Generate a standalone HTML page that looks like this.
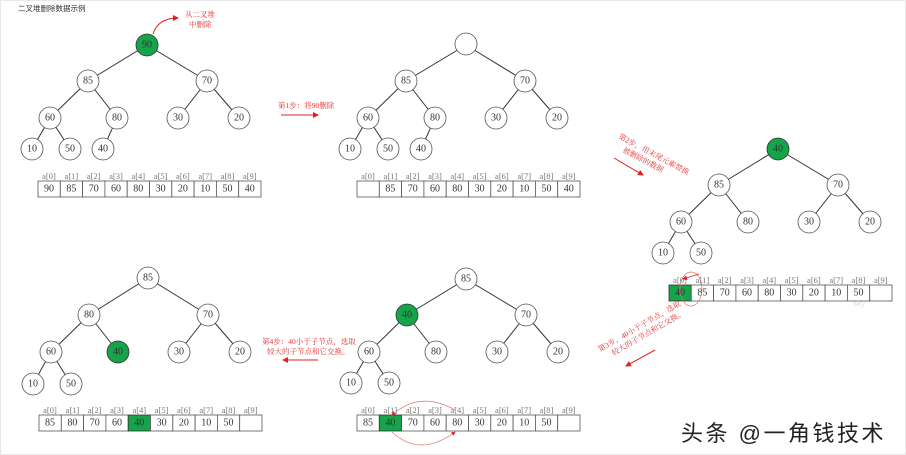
<!DOCTYPE html>
<html><head><meta charset="utf-8"><style>
html,body{margin:0;padding:0;background:#fff}
svg{display:block}
.n{fill:#fff;stroke:#555;stroke-width:0.8}
.g{fill:#15a44a;stroke:#333;stroke-width:0.8}
.t{font-family:"Liberation Serif",serif;font-size:10px;fill:#333;text-anchor:middle;dominant-baseline:central}
.l{stroke:#333;stroke-width:1}
.c{fill:#fff;stroke:#555;stroke-width:0.8}
.cl{font-family:"Liberation Serif",serif;font-size:8.5px;fill:#777;text-anchor:middle}
.r{font-family:"Liberation Serif","Noto Serif CJK SC",serif;font-size:7.5px;fill:#e03030}
</style></head><body>
<svg width="906" height="455" viewBox="0 0 906 455" xmlns="http://www.w3.org/2000/svg">
<defs><marker id="a" markerWidth="6" markerHeight="6" refX="5" refY="3" orient="auto"><path d="M0,0L6,3L0,6z" fill="#e02020"/></marker></defs>
<rect x="0.5" y="0.5" width="905" height="454" fill="#fff" stroke="#e8e8e8"/>
<text x="18" y="11" style="font-family:'Liberation Sans','Noto Sans CJK SC',sans-serif;font-size:7.5px;fill:#333">二叉堆删除数据示例</text>

<!-- Tree 1 -->
<g>
<path class="l" d="M147,45L88,81M147,45L207,81M88,81L50,118M88,81L117,118M207,81L178,118M207,81L239,118M50,118L32,149M50,118L70,149M117,118L103,149"/>
<circle class="g" cx="147" cy="45" r="11"/><text class="t" x="147" y="45">90</text>
<circle class="n" cx="88" cy="81" r="11"/><text class="t" x="88" y="81">85</text>
<circle class="n" cx="207" cy="81" r="11"/><text class="t" x="207" y="81">70</text>
<circle class="n" cx="50" cy="118" r="11"/><text class="t" x="50" y="118">60</text>
<circle class="n" cx="117" cy="118" r="11"/><text class="t" x="117" y="118">80</text>
<circle class="n" cx="178" cy="118" r="11"/><text class="t" x="178" y="118">30</text>
<circle class="n" cx="239" cy="118" r="11"/><text class="t" x="239" y="118">20</text>
<circle class="n" cx="32" cy="149" r="11"/><text class="t" x="32" y="149">10</text>
<circle class="n" cx="70" cy="149" r="11"/><text class="t" x="70" y="149">50</text>
<circle class="n" cx="103" cy="149" r="11"/><text class="t" x="103" y="149">40</text>
</g>
<path d="M153,34Q158,18 178,18" fill="none" stroke="#e02020" stroke-width="1" marker-end="url(#a)"/>
<text class="r" x="185" y="17">从二叉堆</text><text class="r" x="189" y="27">中删除</text>
<g>
<rect class="c" x="38" y="181" width="22.3" height="16"/><rect class="c" x="60.3" y="181" width="22.3" height="16"/><rect class="c" x="82.6" y="181" width="22.3" height="16"/><rect class="c" x="104.9" y="181" width="22.3" height="16"/><rect class="c" x="127.2" y="181" width="22.3" height="16"/><rect class="c" x="149.5" y="181" width="22.3" height="16"/><rect class="c" x="171.8" y="181" width="22.3" height="16"/><rect class="c" x="194.1" y="181" width="22.3" height="16"/><rect class="c" x="216.4" y="181" width="22.3" height="16"/><rect class="c" x="238.7" y="181" width="22.3" height="16"/>
<text class="t" x="49" y="189">90</text><text class="t" x="71.4" y="189">85</text><text class="t" x="93.7" y="189">70</text><text class="t" x="116" y="189">60</text><text class="t" x="138.3" y="189">80</text><text class="t" x="160.6" y="189">30</text><text class="t" x="182.9" y="189">20</text><text class="t" x="205.2" y="189">10</text><text class="t" x="227.5" y="189">50</text><text class="t" x="249.8" y="189">40</text>
<text class="cl" x="49" y="179">a[0]</text><text class="cl" x="71.4" y="179">a[1]</text><text class="cl" x="93.7" y="179">a[2]</text><text class="cl" x="116" y="179">a[3]</text><text class="cl" x="138.3" y="179">a[4]</text><text class="cl" x="160.6" y="179">a[5]</text><text class="cl" x="182.9" y="179">a[6]</text><text class="cl" x="205.2" y="179">a[7]</text><text class="cl" x="227.5" y="179">a[8]</text><text class="cl" x="249.8" y="179">a[9]</text>
</g>
<text class="r" x="278" y="108">第1步：将90删除</text>
<line x1="281" y1="115" x2="318" y2="115" stroke="#e02020" stroke-width="1" marker-end="url(#a)"/>

<!-- Tree 2 -->
<g transform="translate(318,0)">
<path class="l" d="M148,45L88,81M148,45L207,81M88,81L50,118M88,81L117,118M207,81L178,118M207,81L239,118M50,118L32,149M50,118L70,149M117,118L103,149"/>
<circle class="n" cx="148" cy="44" r="11"/>
<circle class="n" cx="88" cy="81" r="11"/><text class="t" x="88" y="81">85</text>
<circle class="n" cx="207" cy="81" r="11"/><text class="t" x="207" y="81">70</text>
<circle class="n" cx="50" cy="118" r="11"/><text class="t" x="50" y="118">60</text>
<circle class="n" cx="117" cy="118" r="11"/><text class="t" x="117" y="118">80</text>
<circle class="n" cx="178" cy="118" r="11"/><text class="t" x="178" y="118">30</text>
<circle class="n" cx="239" cy="118" r="11"/><text class="t" x="239" y="118">20</text>
<circle class="n" cx="32" cy="149" r="11"/><text class="t" x="32" y="149">10</text>
<circle class="n" cx="70" cy="149" r="11"/><text class="t" x="70" y="149">50</text>
<circle class="n" cx="103" cy="149" r="11"/><text class="t" x="103" y="149">40</text>
</g>
<g transform="translate(319,0)">
<rect class="c" x="38" y="181" width="22.3" height="16"/><rect class="c" x="60.3" y="181" width="22.3" height="16"/><rect class="c" x="82.6" y="181" width="22.3" height="16"/><rect class="c" x="104.9" y="181" width="22.3" height="16"/><rect class="c" x="127.2" y="181" width="22.3" height="16"/><rect class="c" x="149.5" y="181" width="22.3" height="16"/><rect class="c" x="171.8" y="181" width="22.3" height="16"/><rect class="c" x="194.1" y="181" width="22.3" height="16"/><rect class="c" x="216.4" y="181" width="22.3" height="16"/><rect class="c" x="238.7" y="181" width="22.3" height="16"/>
<text class="t" x="71.4" y="189">85</text><text class="t" x="93.7" y="189">70</text><text class="t" x="116" y="189">60</text><text class="t" x="138.3" y="189">80</text><text class="t" x="160.6" y="189">30</text><text class="t" x="182.9" y="189">20</text><text class="t" x="205.2" y="189">10</text><text class="t" x="227.5" y="189">50</text><text class="t" x="249.8" y="189">40</text>
<text class="cl" x="49" y="179">a[0]</text><text class="cl" x="71.4" y="179">a[1]</text><text class="cl" x="93.7" y="179">a[2]</text><text class="cl" x="116" y="179">a[3]</text><text class="cl" x="138.3" y="179">a[4]</text><text class="cl" x="160.6" y="179">a[5]</text><text class="cl" x="182.9" y="179">a[6]</text><text class="cl" x="205.2" y="179">a[7]</text><text class="cl" x="227.5" y="179">a[8]</text><text class="cl" x="249.8" y="179">a[9]</text>
</g>

<!-- Step 2 text -->
<g transform="translate(618,138) rotate(28)">
<text class="r" x="0" y="0">第2步，用末尾元素替换</text>
<text class="r" x="10" y="10">被删除的数据</text>
</g>
<line x1="614" y1="158" x2="643" y2="175" stroke="#e02020" stroke-width="1" marker-end="url(#a)"/>

<!-- Tree 3 -->
<g transform="translate(631,104)">
<path class="l" d="M147,45L88,81M147,45L207,81M88,81L50,118M88,81L117,118M207,81L178,118M207,81L239,118M50,118L32,149M50,118L70,149"/>
<circle class="g" cx="147" cy="45" r="11"/><text class="t" x="147" y="45">40</text>
<circle class="n" cx="88" cy="81" r="11"/><text class="t" x="88" y="81">85</text>
<circle class="n" cx="207" cy="81" r="11"/><text class="t" x="207" y="81">70</text>
<circle class="n" cx="50" cy="118" r="11"/><text class="t" x="50" y="118">60</text>
<circle class="n" cx="117" cy="118" r="11"/><text class="t" x="117" y="118">80</text>
<circle class="n" cx="178" cy="118" r="11"/><text class="t" x="178" y="118">30</text>
<circle class="n" cx="239" cy="118" r="11"/><text class="t" x="239" y="118">20</text>
<circle class="n" cx="32" cy="149" r="11"/><text class="t" x="32" y="149">10</text>
<circle class="n" cx="70" cy="149" r="11"/><text class="t" x="70" y="149">50</text>
</g>
<g transform="translate(631,104)">
<rect class="g" x="38" y="181" width="22.3" height="16"/><rect class="c" x="60.3" y="181" width="22.3" height="16"/><rect class="c" x="82.6" y="181" width="22.3" height="16"/><rect class="c" x="104.9" y="181" width="22.3" height="16"/><rect class="c" x="127.2" y="181" width="22.3" height="16"/><rect class="c" x="149.5" y="181" width="22.3" height="16"/><rect class="c" x="171.8" y="181" width="22.3" height="16"/><rect class="c" x="194.1" y="181" width="22.3" height="16"/><rect class="c" x="216.4" y="181" width="22.3" height="16"/><rect class="c" x="238.7" y="181" width="22.3" height="16"/>
<text class="t" x="49" y="189">40</text><text class="t" x="71.4" y="189">85</text><text class="t" x="93.7" y="189">70</text><text class="t" x="116" y="189">60</text><text class="t" x="138.3" y="189">80</text><text class="t" x="160.6" y="189">30</text><text class="t" x="182.9" y="189">20</text><text class="t" x="205.2" y="189">10</text><text class="t" x="227.5" y="189">50</text>
<text class="cl" x="49" y="179">a[0]</text><text class="cl" x="71.4" y="179">a[1]</text><text class="cl" x="93.7" y="179">a[2]</text><text class="cl" x="116" y="179">a[3]</text><text class="cl" x="138.3" y="179">a[4]</text><text class="cl" x="160.6" y="179">a[5]</text><text class="cl" x="182.9" y="179">a[6]</text><text class="cl" x="205.2" y="179">a[7]</text><text class="cl" x="227.5" y="179">a[8]</text><text class="cl" x="249.8" y="179">a[9]</text>
</g>
<ellipse cx="691" cy="289" rx="11" ry="17" fill="none" stroke="#e07070" stroke-width="0.7"/>
<path d="M699,274L683,279" stroke="#e02020" stroke-width="0.8" marker-end="url(#a)"/>
<text x="853" y="306" style="font-family:'Liberation Sans',sans-serif;font-size:8px;fill:#ddd">sky</text>

<!-- Step 3 text -->
<g transform="translate(600,352) rotate(-30)">
<text class="r" x="0" y="0">第3步，40小于子节点，选取</text>
<text class="r" x="10" y="10">较大的子节点和它交换。</text>
</g>
<line x1="655" y1="350" x2="626" y2="366" stroke="#e02020" stroke-width="1" marker-end="url(#a)"/>

<!-- Tree 4 -->
<g transform="translate(1,233)">
<path class="l" d="M147,45L88,82M147,45L207,82M88,82L50,119M88,82L117,119M207,82L178,119M207,82L239,119M50,119L32,151M50,119L70,151"/>
<circle class="n" cx="147" cy="45" r="11"/><text class="t" x="147" y="45">85</text>
<circle class="n" cx="88" cy="82" r="11"/><text class="t" x="88" y="82">80</text>
<circle class="n" cx="207" cy="82" r="11"/><text class="t" x="207" y="82">70</text>
<circle class="n" cx="50" cy="119" r="11"/><text class="t" x="50" y="119">60</text>
<circle class="g" cx="117" cy="119" r="11"/><text class="t" x="117" y="119">40</text>
<circle class="n" cx="178" cy="119" r="11"/><text class="t" x="178" y="119">30</text>
<circle class="n" cx="239" cy="119" r="11"/><text class="t" x="239" y="119">20</text>
<circle class="n" cx="32" cy="151" r="11"/><text class="t" x="32" y="151">10</text>
<circle class="n" cx="70" cy="151" r="11"/><text class="t" x="70" y="151">50</text>
</g>
<g transform="translate(1,234)">
<rect class="c" x="38" y="181" width="22.3" height="16"/><rect class="c" x="60.3" y="181" width="22.3" height="16"/><rect class="c" x="82.6" y="181" width="22.3" height="16"/><rect class="c" x="104.9" y="181" width="22.3" height="16"/><rect class="g" x="127.2" y="181" width="22.3" height="16"/><rect class="c" x="149.5" y="181" width="22.3" height="16"/><rect class="c" x="171.8" y="181" width="22.3" height="16"/><rect class="c" x="194.1" y="181" width="22.3" height="16"/><rect class="c" x="216.4" y="181" width="22.3" height="16"/><rect class="c" x="238.7" y="181" width="22.3" height="16"/>
<text class="t" x="49" y="189">85</text><text class="t" x="71.4" y="189">80</text><text class="t" x="93.7" y="189">70</text><text class="t" x="116" y="189">60</text><text class="t" x="138.3" y="189">40</text><text class="t" x="160.6" y="189">30</text><text class="t" x="182.9" y="189">20</text><text class="t" x="205.2" y="189">10</text><text class="t" x="227.5" y="189">50</text>
<text class="cl" x="49" y="179">a[0]</text><text class="cl" x="71.4" y="179">a[1]</text><text class="cl" x="93.7" y="179">a[2]</text><text class="cl" x="116" y="179">a[3]</text><text class="cl" x="138.3" y="179">a[4]</text><text class="cl" x="160.6" y="179">a[5]</text><text class="cl" x="182.9" y="179">a[6]</text><text class="cl" x="205.2" y="179">a[7]</text><text class="cl" x="227.5" y="179">a[8]</text><text class="cl" x="249.8" y="179">a[9]</text>
</g>

<!-- Step 4 text -->
<text class="r" x="262" y="344">第4步：40小于子节点，选取</text>
<text class="r" x="267" y="354">较大的子节点和它交换。</text>
<line x1="318" y1="360" x2="283" y2="360" stroke="#e02020" stroke-width="1" marker-end="url(#a)"/>

<!-- Tree 5 -->
<g transform="translate(319,234)">
<path class="l" d="M147,45L88,81M147,45L207,81M88,81L50,118M88,81L117,118M207,81L178,118M207,81L239,118M50,118L32,149M50,118L70,149"/>
<circle class="n" cx="147" cy="45" r="11"/><text class="t" x="147" y="45">85</text>
<circle class="g" cx="88" cy="81" r="11"/><text class="t" x="88" y="81">40</text>
<circle class="n" cx="207" cy="81" r="11"/><text class="t" x="207" y="81">70</text>
<circle class="n" cx="50" cy="118" r="11"/><text class="t" x="50" y="118">60</text>
<circle class="n" cx="117" cy="118" r="11"/><text class="t" x="117" y="118">80</text>
<circle class="n" cx="178" cy="118" r="11"/><text class="t" x="178" y="118">30</text>
<circle class="n" cx="239" cy="118" r="11"/><text class="t" x="239" y="118">20</text>
<circle class="n" cx="32" cy="149" r="11"/><text class="t" x="32" y="149">10</text>
<circle class="n" cx="70" cy="149" r="11"/><text class="t" x="70" y="149">50</text>
</g>
<g transform="translate(319,234)">
<rect class="c" x="38" y="181" width="22.3" height="16"/><rect class="g" x="60.3" y="181" width="22.3" height="16"/><rect class="c" x="82.6" y="181" width="22.3" height="16"/><rect class="c" x="104.9" y="181" width="22.3" height="16"/><rect class="c" x="127.2" y="181" width="22.3" height="16"/><rect class="c" x="149.5" y="181" width="22.3" height="16"/><rect class="c" x="171.8" y="181" width="22.3" height="16"/><rect class="c" x="194.1" y="181" width="22.3" height="16"/><rect class="c" x="216.4" y="181" width="22.3" height="16"/><rect class="c" x="238.7" y="181" width="22.3" height="16"/>
<text class="t" x="49" y="189">85</text><text class="t" x="71.4" y="189">40</text><text class="t" x="93.7" y="189">70</text><text class="t" x="116" y="189">60</text><text class="t" x="138.3" y="189">80</text><text class="t" x="160.6" y="189">30</text><text class="t" x="182.9" y="189">20</text><text class="t" x="205.2" y="189">10</text><text class="t" x="227.5" y="189">50</text>
<text class="cl" x="49" y="179">a[0]</text><text class="cl" x="71.4" y="179">a[1]</text><text class="cl" x="93.7" y="179">a[2]</text><text class="cl" x="116" y="179">a[3]</text><text class="cl" x="138.3" y="179">a[4]</text><text class="cl" x="160.6" y="179">a[5]</text><text class="cl" x="182.9" y="179">a[6]</text><text class="cl" x="205.2" y="179">a[7]</text><text class="cl" x="227.5" y="179">a[8]</text><text class="cl" x="249.8" y="179">a[9]</text>
</g>
<path d="M455,410Q420,390 392,415" fill="none" stroke="#e07070" stroke-width="0.7" marker-end="url(#a)"/>
<path d="M392,432Q420,458 455,432" fill="none" stroke="#e07070" stroke-width="0.7" marker-end="url(#a)"/>

<text x="681" y="441" style="font-family:'Liberation Sans','Noto Sans CJK SC',sans-serif;font-size:22px;letter-spacing:2.5px;fill:#222">头条 @一角钱技术</text>
</svg>
</body></html>
